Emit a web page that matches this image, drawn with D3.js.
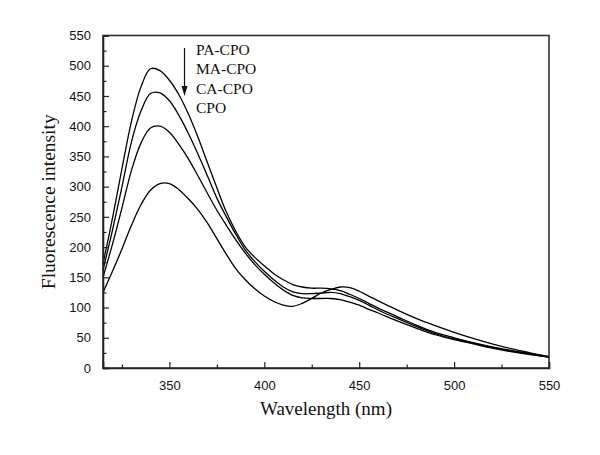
<!DOCTYPE html>
<html>
<head>
<meta charset="utf-8">
<script src="https://cdn.jsdelivr.net/npm/d3@7"></script>
<style>
  html, body { margin: 0; padding: 0; background: #fff; }
  svg { display: block; }
</style>
</head>
<body>
<svg id="chart" width="600" height="455"></svg>
<script>
// ---- data ----
const wavelengths = [315,320,325,330,335,340,345,350,355,360,365,370,375,380,385,390,395,400,405,410,415,420,425,430,435,440,445,450,455,460,470,480,490,500,510,520,530,540,550];
const paCPO = [172,248,330,408,465,495,492,476,452,420,382,340,298,258,226,200,183,169,156,146,138,134,132,132,131,128,122,115,107,99,85,71,59,50,42,35,29,24,19];
const maCPO = [162,228,300,374,425,454,455,442,418,388,354,318,281,250,221,195,176,160,146,134,126,123,123,124,125,123,118,112,104,96,82,69,57,48,41,34,28,23,18];
const caCPO = [150,205,265,327,372,397,400,390,370,346,318,289,261,236,212,190,171,155,141,129,120,116,115,115,115,113,109,104,97,91,78,66,55,47,40,33,27,22,18];
const cpo   = [125,160,197,236,270,294,305,305,295,280,262,240,214,188,164,146,131,119,110,104,102,107,115,124,130,134,133,127,119,111,96,82,70,59,49,40,32,25,18];
const seriesNames = ["PA-CPO","MA-CPO","CA-CPO","CPO"];
const seriesValues = [paCPO, maCPO, caCPO, cpo];
const xMajorTicks = [350,400,450,500,550];
const xMinorTicks = [325,375,425,475,525];
const yMajorTicks = [0,50,100,150,200,250,300,350,400,450,500,550];
const yMinorTicks = [25,75,125,175,225,275,325,375,425,475,525];

// ---- layout ----
const svg = d3.select("#chart");
const margin = {left: 103, right: 51, top: 35.5, bottom: 87};
const W = 600, H = 455;
const x = d3.scaleLinear().domain([315, 550]).range([margin.left, W - margin.right]);
const y = d3.scaleLinear().domain([0, 550]).range([H - margin.bottom, margin.top]);

const axisColor = "#222";

// frame
svg.append("rect")
  .attr("x", x(315)).attr("y", y(550))
  .attr("width", x(550) - x(315)).attr("height", y(0) - y(550))
  .attr("fill", "none").attr("stroke", "#333").attr("stroke-width", 1.6);

// curves
const line = d3.line()
  .x((d, i) => x(wavelengths[i]))
  .y(d => y(d))
  .curve(d3.curveCatmullRom.alpha(0.5));

svg.append("g").selectAll("path")
  .data(seriesValues)
  .join("path")
  .attr("d", d => line(d))
  .attr("fill", "none")
  .attr("stroke", "#000")
  .attr("stroke-width", 1.3);

// y axis
svg.append("g")
  .attr("transform", `translate(${x(315)},0)`)
  .call(d3.axisLeft(y).tickValues(yMajorTicks).tickSize(-6).tickPadding(12).tickFormat(d3.format("d")));
svg.append("g")
  .attr("transform", `translate(${x(315)},0)`)
  .call(d3.axisLeft(y).tickValues(yMinorTicks).tickSize(-3.5).tickFormat(""))
  .call(g => g.select(".domain").remove());

// x axis
svg.append("g")
  .attr("transform", `translate(0,${y(0)})`)
  .call(d3.axisBottom(x).tickValues(xMajorTicks).tickSize(-6).tickPadding(13).tickFormat(d3.format("d")));
svg.append("g")
  .attr("transform", `translate(0,${y(0)})`)
  .call(d3.axisBottom(x).tickValues(xMinorTicks).tickSize(-3.5).tickFormat(""))
  .call(g => g.select(".domain").remove());

svg.selectAll(".domain").attr("stroke", axisColor).attr("stroke-width", 1.6);
svg.selectAll(".tick line").attr("stroke", axisColor).attr("stroke-width", 1.2);
svg.selectAll(".tick text")
  .attr("font-family", "'Liberation Sans', Arial, sans-serif")
  .attr("font-size", 13)
  .attr("fill", "#111");

// axis titles
svg.append("text")
  .attr("x", (x(315) + x(550)) / 2)
  .attr("y", 415)
  .attr("text-anchor", "middle")
  .attr("font-family", "'Liberation Serif', 'Times New Roman', serif")
  .attr("font-size", 19)
  .attr("fill", "#111")
  .text("Wavelength (nm)");

svg.append("text")
  .attr("transform", `translate(55,${(y(0) + y(550)) / 2}) rotate(-90)`)
  .attr("text-anchor", "middle")
  .attr("font-family", "'Liberation Serif', 'Times New Roman', serif")
  .attr("font-size", 19.5)
  .attr("fill", "#111")
  .text("Fluorescence intensity");

// legend labels
const legend = svg.append("g");
legend.selectAll("text")
  .data(seriesNames)
  .join("text")
  .attr("x", 196)
  .attr("y", (d, i) => 54.5 + i * 19.6)
  .attr("font-family", "'Liberation Serif', 'Times New Roman', serif")
  .attr("font-size", 15.5)
  .attr("fill", "#111")
  .text(d => d);

// arrow
legend.append("line")
  .attr("x1", 184.5).attr("y1", 48)
  .attr("x2", 184.5).attr("y2", 88)
  .attr("stroke", "#111").attr("stroke-width", 1.2);
legend.append("path")
  .attr("d", "M181.5,86 L187.5,86 L184.5,96 Z")
  .attr("fill", "#111");
</script>
</body>
</html>
